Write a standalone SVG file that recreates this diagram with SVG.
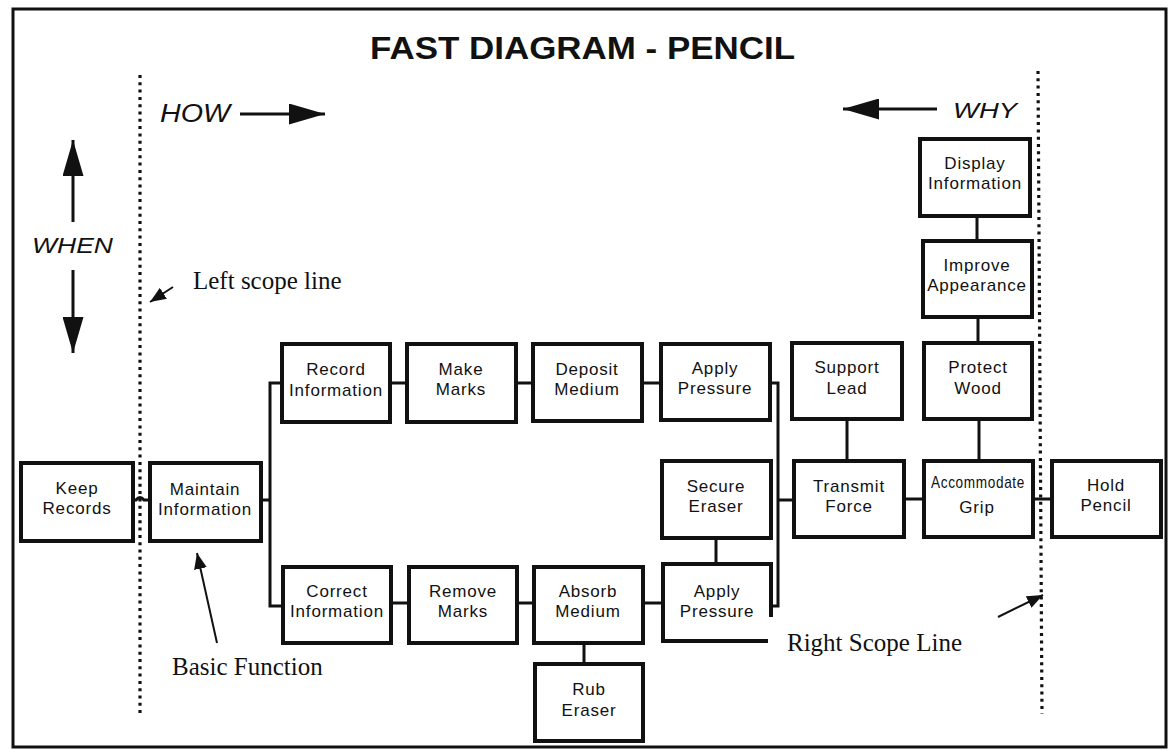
<svg xmlns="http://www.w3.org/2000/svg" width="1170" height="749" viewBox="0 0 1170 749">
<defs>
<style>
.box{fill:#fff;stroke:#111;stroke-width:4}
.lbl{font-family:"Liberation Sans",Arial,sans-serif;font-size:17px;letter-spacing:0.8px;fill:#111;text-anchor:middle}
.con{fill:none;stroke:#111;stroke-width:3}
.scope{fill:none;stroke:#111;stroke-width:3.2;stroke-dasharray:3 4.3}
.note{font-family:"Liberation Serif","Times New Roman",serif;font-size:25px;fill:#111}
.dir{font-family:"Liberation Sans",Arial,sans-serif;font-style:italic;fill:#111}
.ptr{fill:none;stroke:#111;stroke-width:2}
.big{fill:none;stroke:#111;stroke-width:3}
</style>
<marker id="ah" viewBox="0 0 10 10" refX="10" refY="5" markerWidth="8" markerHeight="6.5" orient="auto" markerUnits="strokeWidth" preserveAspectRatio="none">
<path d="M0,0 L10,5 L0,10 z" fill="#111"/>
</marker>
<marker id="bigah" viewBox="0 0 10 10" refX="10" refY="5" markerWidth="12" markerHeight="7" orient="auto" markerUnits="strokeWidth" preserveAspectRatio="none">
<path d="M0,0 L10,5 L0,10 z" fill="#111"/>
</marker>
</defs>
<rect x="0" y="0" width="1170" height="749" fill="#fff"/>
<rect x="13" y="9" width="1153" height="738" fill="none" stroke="#111" stroke-width="3"/>

<text x="370" y="59" font-family="'Liberation Sans',Arial,sans-serif" font-weight="bold" font-size="31" fill="#111" textLength="425" lengthAdjust="spacingAndGlyphs">FAST  DIAGRAM - PENCIL</text>

<g id="scope-lines">
<line class="scope" x1="140" y1="75" x2="140" y2="714"/>
<line class="scope" x1="1038" y1="71" x2="1042" y2="714"/>
</g>

<g id="directions">
<text class="dir" x="160" y="122" font-size="26" textLength="70" lengthAdjust="spacingAndGlyphs">HOW</text>
<line class="big" x1="240" y1="114" x2="325" y2="114" marker-end="url(#bigah)"/>
<text class="dir" x="953" y="118" font-size="22" textLength="64" lengthAdjust="spacingAndGlyphs">WHY</text>
<line class="big" x1="937" y1="109" x2="843" y2="109" marker-end="url(#bigah)"/>
<text class="dir" x="32" y="253" font-size="22" textLength="81" lengthAdjust="spacingAndGlyphs">WHEN</text>
<line class="big" x1="73" y1="222" x2="73" y2="140" marker-end="url(#bigah)"/>
<line class="big" x1="73" y1="270" x2="73" y2="353" marker-end="url(#bigah)"/>
</g>

<g id="annotations">
<text class="note" x="193" y="289">Left scope line</text>
<line class="ptr" x1="173" y1="287" x2="150" y2="302" marker-end="url(#ah)"/>
<text class="note" x="172" y="675">Basic Function</text>
<line class="ptr" x1="217" y1="643" x2="197" y2="553" marker-end="url(#ah)"/>
<text class="note" x="787" y="651">Right Scope Line</text>
<line class="ptr" x1="998" y1="617" x2="1043" y2="595" marker-end="url(#ah)"/>
</g>

<g id="connectors">
<path class="con" d="M133,500 H136 Q140,495 144,500 H150"/>
<path class="con" d="M261,500 H270 M282,383 H270 V606 H283"/>
<path class="con" d="M390,383 H407 M516,383 H533 M642,383 H661"/>
<path class="con" d="M391,603 H409 M517,603 H534 M643,603 H663"/>
<path class="con" d="M584,643 V664"/>
<path class="con" d="M716,538 V564"/>
<path class="con" d="M770,383 H778 V606 H771 M778,500 H794"/>
<path class="con" d="M847,419 V461"/>
<path class="con" d="M904,499 H924"/>
<path class="con" d="M979,419 V461"/>
<path class="con" d="M978,317 V343"/>
<path class="con" d="M977,216 V241"/>
<path class="con" d="M1033,499 H1052"/>
</g>

<g id="keep-records">
<rect class="box" x="21" y="463" width="112" height="78"/>
<text class="lbl" x="77" y="494">Keep</text><text class="lbl" x="77" y="514">Records</text>
</g>
<g id="maintain-information">
<rect class="box" x="150" y="463" width="111" height="78"/>
<text class="lbl" x="205" y="495">Maintain</text><text class="lbl" x="205" y="515">Information</text>
</g>
<g id="record-information">
<rect class="box" x="282" y="344" width="108" height="78"/>
<text class="lbl" x="336" y="375">Record</text><text class="lbl" x="336" y="396">Information</text>
</g>
<g id="make-marks">
<rect class="box" x="407" y="344" width="109" height="78"/>
<text class="lbl" x="461" y="375">Make</text><text class="lbl" x="461" y="395">Marks</text>
</g>
<g id="deposit-medium">
<rect class="box" x="533" y="344" width="109" height="77"/>
<text class="lbl" x="587" y="375">Deposit</text><text class="lbl" x="587" y="395">Medium</text>
</g>
<g id="apply-pressure-top">
<rect class="box" x="661" y="344" width="109" height="76"/>
<text class="lbl" x="715" y="374">Apply</text><text class="lbl" x="715" y="394">Pressure</text>
</g>
<g id="correct-information">
<rect class="box" x="283" y="567" width="108" height="76"/>
<text class="lbl" x="337" y="597">Correct</text><text class="lbl" x="337" y="617">Information</text>
</g>
<g id="remove-marks">
<rect class="box" x="409" y="567" width="108" height="76"/>
<text class="lbl" x="463" y="597">Remove</text><text class="lbl" x="463" y="617">Marks</text>
</g>
<g id="absorb-medium">
<rect class="box" x="534" y="567" width="109" height="76"/>
<text class="lbl" x="588" y="597">Absorb</text><text class="lbl" x="588" y="617">Medium</text>
</g>
<g id="rub-eraser">
<rect class="box" x="535" y="664" width="108" height="77"/>
<text class="lbl" x="589" y="695">Rub</text><text class="lbl" x="589" y="716">Eraser</text>
</g>
<g id="secure-eraser">
<rect class="box" x="662" y="461" width="109" height="77"/>
<text class="lbl" x="716" y="492">Secure</text><text class="lbl" x="716" y="512">Eraser</text>
</g>
<g id="apply-pressure-bottom">
<path class="box" d="M771,617 V564 H663 V641 H768"/>
<text class="lbl" x="717" y="597">Apply</text><text class="lbl" x="717" y="617">Pressure</text>
</g>
<g id="support-lead">
<rect class="box" x="792" y="343" width="110" height="76"/>
<text class="lbl" x="847" y="373">Support</text><text class="lbl" x="847" y="394">Lead</text>
</g>
<g id="transmit-force">
<rect class="box" x="794" y="461" width="110" height="76"/>
<text class="lbl" x="849" y="492">Transmit</text><text class="lbl" x="849" y="512">Force</text>
</g>
<g id="protect-wood">
<rect class="box" x="924" y="343" width="108" height="76"/>
<text class="lbl" x="978" y="373">Protect</text><text class="lbl" x="978" y="394">Wood</text>
</g>
<g id="accommodate-grip">
<rect class="box" x="924" y="461" width="109" height="76"/>
<text class="lbl" x="978" y="488" font-size="14.5" letter-spacing="0" textLength="94" lengthAdjust="spacingAndGlyphs">Accommodate</text>
<text class="lbl" x="977" y="513" font-size="23" letter-spacing="0">Grip</text>
</g>
<g id="hold-pencil">
<rect class="box" x="1052" y="461" width="109" height="76"/>
<text class="lbl" x="1106" y="491">Hold</text><text class="lbl" x="1106" y="511">Pencil</text>
</g>
<g id="display-information">
<rect class="box" x="920" y="139" width="110" height="77"/>
<text class="lbl" x="975" y="169">Display</text><text class="lbl" x="975" y="189">Information</text>
</g>
<g id="improve-appearance">
<rect class="box" x="923" y="241" width="109" height="76"/>
<text class="lbl" x="977" y="271">Improve</text><text class="lbl" x="977" y="291">Appearance</text>
</g>
</svg>
